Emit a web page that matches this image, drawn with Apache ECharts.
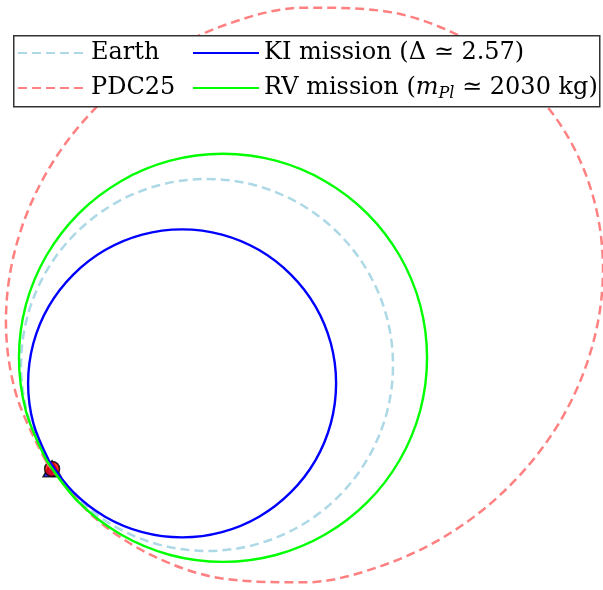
<!DOCTYPE html>
<html>
<head>
<meta charset="utf-8">
<script src="https://cdn.jsdelivr.net/npm/echarts@6/dist/echarts.min.js"></script>
<style>html,body{margin:0;padding:0;background:#fff}#c{width:603px;height:590px}</style>
</head>
<body>
<div id="c"></div>
<script>
// Heliocentric positions (AU), estimated from the reference figure
const seriesNames = ['Earth', 'PDC25', 'KI mission (Δ ≃ 2.57)', 'RV mission (m_Pl ≃ 2030 kg)'];

const earthOrbit = [
  [-0.866, -0.500], [-0.707, -0.707], [-0.500, -0.866], [-0.259, -0.966], [0.000, -1.000],
  [0.259, -0.966], [0.500, -0.866], [0.707, -0.707], [0.866, -0.500], [0.966, -0.259],
  [1.000, 0.000], [0.966, 0.259], [0.866, 0.500], [0.707, 0.707], [0.500, 0.866],
  [0.259, 0.966], [0.000, 1.000], [-0.259, 0.966], [-0.500, 0.866], [-0.707, 0.707],
  [-0.866, 0.500], [-0.966, 0.259], [-1.000, 0.000], [-0.966, -0.259], [-0.866, -0.500]
];

const pdcOrbit = [
  [-0.866, -0.518], [-0.611, -0.815], [-0.279, -1.032], [0.109, -1.152], [0.524, -1.169],
  [0.939, -1.080], [1.327, -0.892], [1.659, -0.617], [1.914, -0.276], [2.074, 0.111],
  [2.129, 0.516], [2.074, 0.911], [1.914, 1.270], [1.659, 1.567], [1.327, 1.784],
  [0.939, 1.904], [0.524, 1.921], [0.109, 1.832], [-0.279, 1.644], [-0.611, 1.369],
  [-0.866, 1.028], [-1.026, 0.641], [-1.081, 0.236], [-1.026, -0.159], [-0.866, -0.518]
];

const kiOrbit = [
  [-0.851, -0.513], [-0.719, -0.684], [-0.548, -0.816], [-0.348, -0.899], [-0.134, -0.927],
  [0.080, -0.899], [0.280, -0.816], [0.451, -0.684], [0.583, -0.513], [0.666, -0.313],
  [0.694, -0.099], [0.666, 0.115], [0.583, 0.315], [0.451, 0.486], [0.280, 0.618],
  [0.080, 0.701], [-0.134, 0.729], [-0.348, 0.701], [-0.548, 0.618], [-0.719, 0.486],
  [-0.851, 0.315], [-0.934, 0.115], [-0.962, -0.099], [-0.934, -0.313], [-0.851, -0.513]
];

const rvOrbit = [
  [-0.864, -0.511], [-0.690, -0.738], [-0.463, -0.912], [-0.198, -1.022], [0.086, -1.059],
  [0.370, -1.022], [0.635, -0.912], [0.862, -0.738], [1.036, -0.511], [1.146, -0.246],
  [1.183, 0.038], [1.146, 0.322], [1.036, 0.587], [0.862, 0.814], [0.635, 0.988],
  [0.370, 1.098], [0.086, 1.135], [-0.198, 1.098], [-0.463, 0.988], [-0.690, 0.814],
  [-0.864, 0.587], [-0.974, 0.322], [-1.011, 0.038], [-0.974, -0.246], [-0.864, -0.511]
];

const impactPoint = [[-0.833, -0.559]];

const xRange = [-1.113, 2.129];
const yRange = [-1.210, 1.962];

const FONT = 'DejaVu Serif';
const chart = echarts.init(document.getElementById('c'), null, {renderer: 'canvas'});

function legendAt(name, left, top, w) {
  return {
    data: [name], left: left, top: top, orient: 'horizontal', padding: 0,
    itemWidth: w, itemHeight: 14, selectedMode: false, z: 10,
    itemStyle: {color: 'rgba(0,0,0,0)', borderColor: 'rgba(0,0,0,0)', borderWidth: 0, opacity: 0},
    textStyle: {
      fontFamily: FONT, fontSize: 24, color: '#000', lineHeight: 28,
      rich: {
        it: {fontFamily: FONT, fontSize: 24, fontStyle: 'italic', color: '#000', lineHeight: 28},
        sub: {fontFamily: FONT, fontSize: 16, fontStyle: 'italic', color: '#000', lineHeight: 28, verticalAlign: 'bottom'}
      }
    },
    formatter: function (n) {
      if (n === seriesNames[3]) return 'RV mission ({it|m}{sub|Pl} ≃ 2030 kg)';
      return n;
    }
  };
}

const SMOOTH = 0.34;

chart.setOption({
  animation: false,
  backgroundColor: '#fff',
  grid: {left: 0, right: 0, top: 0, bottom: 0},
  xAxis: {type: 'value', min: xRange[0], max: xRange[1], show: false},
  yAxis: {type: 'value', min: yRange[0], max: yRange[1], show: false},
  legend: [
    legendAt(seriesNames[0], 17, 39, 68),
    legendAt(seriesNames[1], 17, 74, 68),
    legendAt(seriesNames[2], 192, 39, 66),
    legendAt(seriesNames[3], 192, 74, 66)
  ],
  graphic: [{
    type: 'rect', z: 8, left: 13, top: 35,
    shape: {width: 586, height: 71},
    style: {fill: '#fff', stroke: '#333', lineWidth: 1.5}
  }],
  series: [
    {type: 'scatter', name: 'impact-tri', data: impactPoint, symbol: 'triangle', symbolSize: [18, 16],
     itemStyle: {color: '#0000ee', borderColor: '#000', borderWidth: 1.5}, z: 1, silent: true},
    {type: 'scatter', name: 'impact-dot', data: impactPoint, symbol: 'circle', symbolSize: 15,
     itemStyle: {color: '#ff0000', borderColor: '#000', borderWidth: 1.5}, z: 1, silent: true},
    {type: 'line', name: seriesNames[0], data: earthOrbit, symbol: 'none', smooth: SMOOTH, z: 2,
     lineStyle: {color: '#add8e6', width: 2.5, type: [9, 5]}, itemStyle: {color: '#add8e6'}},
    {type: 'line', name: seriesNames[1], data: pdcOrbit, symbol: 'none', smooth: SMOOTH, z: 2,
     lineStyle: {color: '#ff8080', width: 2.5, type: [9, 5]}, itemStyle: {color: '#ff8080'}},
    {type: 'line', name: seriesNames[2], data: kiOrbit, symbol: 'none', smooth: SMOOTH, z: 2,
     lineStyle: {color: '#0000ff', width: 2.4}, itemStyle: {color: '#0000ff'}},
    {type: 'line', name: seriesNames[3], data: rvOrbit, symbol: 'none', smooth: SMOOTH, z: 2,
     lineStyle: {color: '#00ff00', width: 2.4}, itemStyle: {color: '#00ff00'}}
  ]
});
</script>
</body>
</html>
